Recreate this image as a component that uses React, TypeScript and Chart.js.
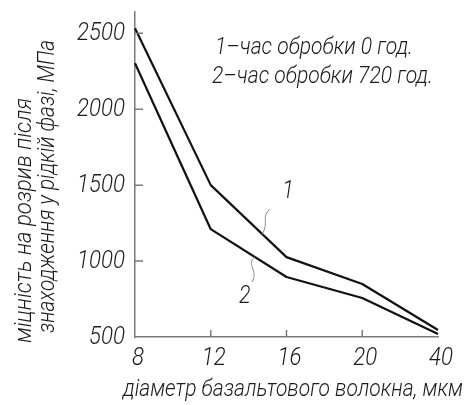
import React, { useEffect, useRef } from 'react';
import { Chart, registerables } from 'chart.js';

Chart.register(...registerables);

// ---- data ----
const categories = ['8', '12', '16', '20', '40'];
const series1 = [2533, 1500, 1026, 849, 546];
const series2 = [2303, 1210, 895, 757, 520];
const yTickValues = [500, 1000, 1500, 2000, 2500];
const legendLines = ['1–час обробки 0 год.', '2–час обробки 720 год.'];
const xTitle = 'діаметр базальтового волокна, мкм';
const yTitle = ['міцність на розрив після', 'знаходження у рідкій фазі, МПа'];
const curveLabels = ['1', '2'];

// ---- styling / placement ----
const FAMILY = "Roboto, 'DejaVu Sans', sans-serif";
const WEIGHT = 300;
const TEXT = '#1c1c1c';
const AXIS = '#7a7a7a';
// annotation anchors in data space [categoryIndex, value]
const label1Pos = [2.02, 1454];
const leader1 = [[1.78, 1342], [1.68, 1178]];
const label2Pos = [1.45, 763];
const leader2 = [[1.58, 1027], [1.545, 862]];

function font(size: number) {
  return `italic ${WEIGHT} ${size}px ${FAMILY}`;
}

// draw text horizontally scaled so that it spans targetWidth (or a given scale)
function drawText(
  ctx: CanvasRenderingContext2D,
  text: string,
  x: number,
  y: number,
  size: number,
  opts: { width?: number; sx?: number; align?: CanvasTextAlign; rot?: number }
) {
  ctx.save();
  ctx.font = font(size);
  ctx.textBaseline = 'middle';
  ctx.textAlign = opts.align || 'left';
  ctx.translate(x, y);
  if (opts.rot) ctx.rotate(opts.rot);
  let sx = opts.sx || 1;
  if (opts.width) sx = opts.width / ctx.measureText(text).width;
  ctx.scale(sx, 1);
  ctx.fillText(text, 0, 0);
  ctx.restore();
}

const decorPlugin = {
  id: 'decor',
  afterDraw(chart: any) {
    const { ctx } = chart;
    const xs = chart.scales.x;
    const ys = chart.scales.y;
    const P = (i: number, v: number) => [xs.getPixelForValue(i), ys.getPixelForValue(v)];
    ctx.save();
    // inward tick marks
    ctx.strokeStyle = AXIS;
    ctx.lineWidth = 1.5;
    ctx.beginPath();
    for (let i = 1; i < categories.length - 1; i++) {
      const px = xs.getPixelForValue(i);
      ctx.moveTo(px, ys.bottom);
      ctx.lineTo(px, ys.bottom - 7);
    }
    yTickValues.slice(1).forEach((v) => {
      const py = ys.getPixelForValue(v);
      ctx.moveTo(xs.left, py);
      ctx.lineTo(xs.left + 8, py);
    });
    ctx.stroke();

    // leaders
    ctx.strokeStyle = '#8a8a8a';
    ctx.lineWidth = 1;
    const drawLeader = (seg: number[][]) => {
      const [ax, ay] = P(seg[0][0], seg[0][1]);
      const [bx, by] = P(seg[1][0], seg[1][1]);
      const dy = by - ay;
      ctx.beginPath();
      ctx.moveTo(ax, ay);
      ctx.bezierCurveTo(ax - 9, ay + dy * 0.3, bx + 7, by - dy * 0.45, bx, by);
      ctx.stroke();
    };
    drawLeader(leader1);
    drawLeader(leader2);
    ctx.fillStyle = TEXT;

    // tick labels (common horizontal scale derived from the "2500" label width)
    ctx.font = font(26);
    const tickSx = 48 / ctx.measureText('2500').width;
    yTickValues.forEach((v) => {
      drawText(ctx, String(v), xs.left - 10, ys.getPixelForValue(v), 26, { sx: tickSx, align: 'right' });
    });
    categories.forEach((c, i) => {
      drawText(ctx, c, xs.getPixelForValue(i) + 3, ys.bottom + 21, 26, { sx: tickSx, align: 'center' });
    });

    // curve labels
    let [lx, ly] = P(label1Pos[0], label1Pos[1]);
    drawText(ctx, curveLabels[0], lx, ly, 25, { sx: tickSx, align: 'center' });
    [lx, ly] = P(label2Pos[0], label2Pos[1]);
    drawText(ctx, curveLabels[1], lx, ly, 25, { sx: tickSx, align: 'center' });

    // legend text
    drawText(ctx, legendLines[0], 215, 48, 24, { width: 198 });
    drawText(ctx, legendLines[1], 212, 77, 24, { width: 221 });

    // x title
    drawText(ctx, xTitle, 123, 390, 23, { width: 340 });

    // y title (rotated)
    drawText(ctx, yTitle[0], 25, 343, 23, { width: 245, rot: -Math.PI / 2 });
    drawText(ctx, yTitle[1], 48, 333, 23, { width: 293, rot: -Math.PI / 2 });
    ctx.restore();
  },
};

export default function App() {
  const ref = useRef<HTMLCanvasElement | null>(null);
  useEffect(() => {
    if (!ref.current) return;
    const chart = new Chart(ref.current, {
      type: 'line',
      data: {
        labels: categories,
        datasets: [
          { data: series1, borderColor: '#111', borderWidth: 2.2, pointRadius: 0, tension: 0, borderJoinStyle: 'round' },
          { data: series2, borderColor: '#111', borderWidth: 2.2, pointRadius: 0, tension: 0, borderJoinStyle: 'round' },
        ],
      },
      options: {
        responsive: false,
        animation: false,
        devicePixelRatio: 1,
        layout: { padding: { top: 12, right: 27, left: 0, bottom: 0 } },
        plugins: { legend: { display: false }, tooltip: { enabled: false } },
        scales: {
          x: {
            type: 'category',
            offset: false,
            grid: { display: false },
            border: { display: true, color: AXIS, width: 1.5 },
            ticks: { display: false },
            afterFit: (s: any) => { s.height = 68; },
          },
          y: {
            type: 'linear',
            min: 500,
            max: 2640,
            grid: { display: false },
            border: { display: true, color: AXIS, width: 1.5 },
            afterBuildTicks: (s: any) => { s.ticks = yTickValues.map((v) => ({ value: v })); },
            ticks: { display: false },
            afterFit: (s: any) => { s.width = 135; },
          },
        },
      },
      plugins: [decorPlugin],
    } as any);
    return () => chart.destroy();
  }, []);
  return (
    <div style={{ position: 'fixed', left: 0, top: 0, width: 465, height: 405, background: '#fff' }}>
      <canvas ref={ref} width={465} height={405} style={{ display: 'block' }} />
    </div>
  );
}
